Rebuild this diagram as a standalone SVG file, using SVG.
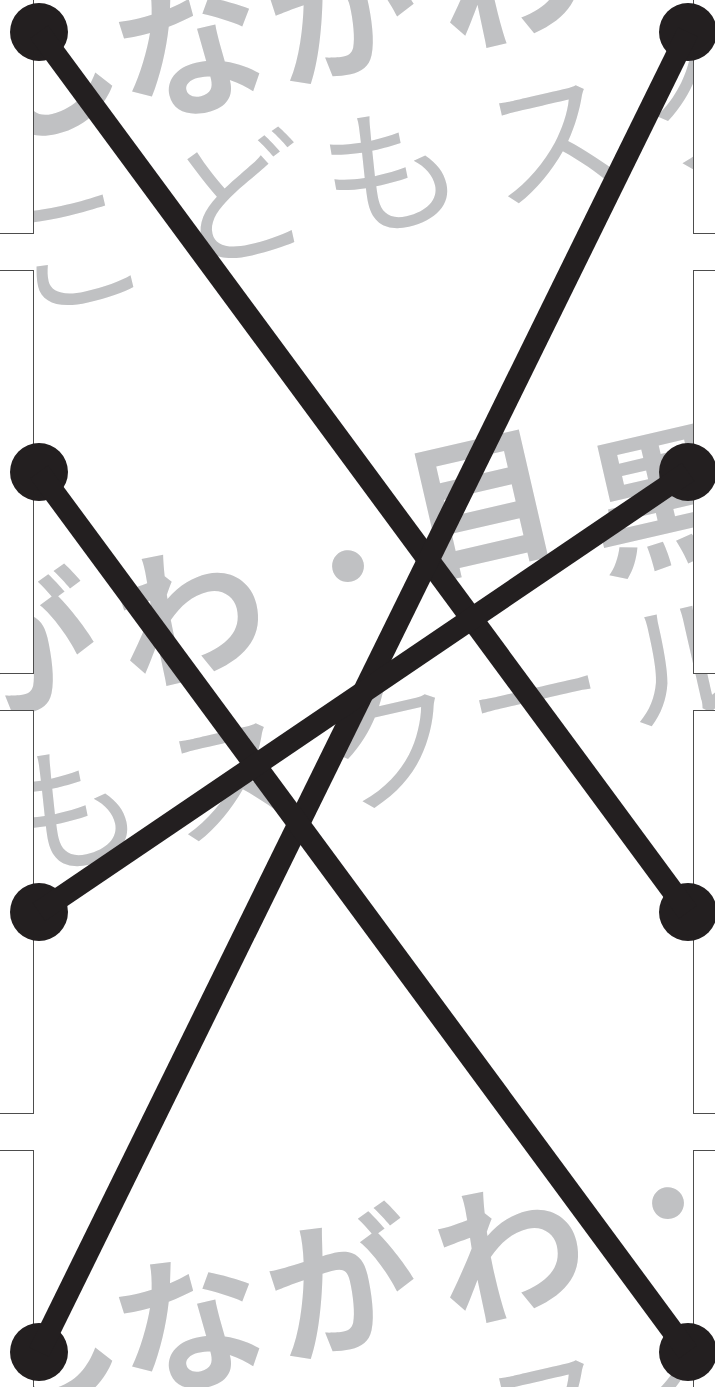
<svg xmlns="http://www.w3.org/2000/svg" width="715" height="1387" viewBox="0 0 715 1387">
<style>
.wm1 { font-family: "Noto Sans CJK JP", "Noto Sans", sans-serif; font-size: 150px; font-weight: 700; fill: #c0c1c3; }
.wm2 { font-family: "Noto Sans CJK JP", "Noto Sans", sans-serif; font-size: 140px; font-weight: 400; fill: #c0c1c3; }
.thin { font-weight: 400; }
.panel { fill: #ffffff; stroke: #4d4d4d; stroke-width: 1; }
.dot { fill: #231f20; }
.link { stroke: #231f20; stroke-width: 22; fill: none; }
</style>
<defs>
<g id="wmtile">
<text class="wm1" x="-16.3 128.7 281.7 449.7 607.7 740.7 921.7" y="140.4 120.4 82.4 48.4 0.4 -63.6 -67.6" rotate="-13">しながわ<tspan class="thin">・</tspan>目黒</text>
<text class="wm2" x="19.8 182.8 333.8 495.8 655.8 798.8 951.8" y="314.6 265.6 237.6 205.6 172.6 124.6 89.6" rotate="-13">こどもスクール</text>
</g>
</defs>
<rect x="0" y="0" width="715" height="1387" fill="#ffffff"/>
<g id="watermark">
<use href="#wmtile"/>
<use href="#wmtile" transform="translate(-320 638)"/>
<use href="#wmtile" transform="translate(0 1275)"/>
</g>
<g id="left-1"><rect class="panel" x="-20" y="-169.5" width="53.5" height="403"/><circle class="dot" cx="39" cy="32" r="29"/></g>
<g id="left-2"><rect class="panel" x="-20" y="270.5" width="53.5" height="403"/><circle class="dot" cx="39" cy="472" r="29"/></g>
<g id="left-3"><rect class="panel" x="-20" y="710.5" width="53.5" height="403"/><circle class="dot" cx="39" cy="912" r="29"/></g>
<g id="left-4"><rect class="panel" x="-20" y="1150.5" width="53.5" height="403"/><circle class="dot" cx="39" cy="1352" r="29"/></g>
<g id="right-1"><rect class="panel" x="693.5" y="-169.5" width="40" height="403"/><circle class="dot" cx="688" cy="32" r="29"/></g>
<g id="right-2"><rect class="panel" x="693.5" y="270.5" width="40" height="403"/><circle class="dot" cx="688" cy="472" r="29"/></g>
<g id="right-3"><rect class="panel" x="693.5" y="710.5" width="40" height="403"/><circle class="dot" cx="688" cy="912" r="29"/></g>
<g id="right-4"><rect class="panel" x="693.5" y="1150.5" width="40" height="403"/><circle class="dot" cx="688" cy="1352" r="29"/></g>
<g id="connectors">
<line class="link" x1="39" y1="32" x2="688" y2="912"/>
<line class="link" x1="688" y1="32" x2="39" y2="1352"/>
<line class="link" x1="39" y1="472" x2="688" y2="1352"/>
<line class="link" x1="688" y1="472" x2="39" y2="912"/>
</g>
</svg>
